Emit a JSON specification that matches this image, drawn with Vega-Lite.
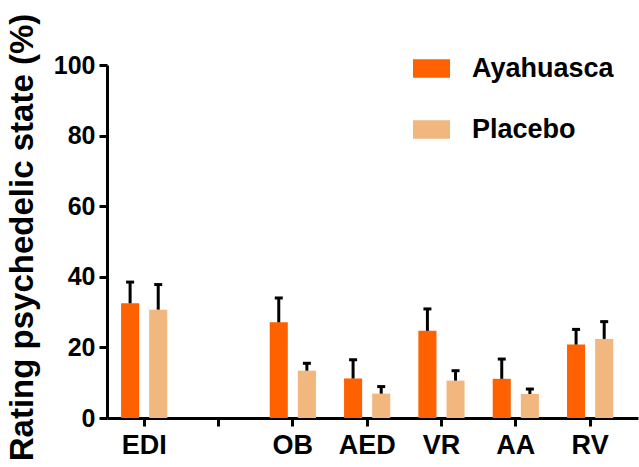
{
  "$schema": "https://vega.github.io/schema/vega-lite/v6.json",
  "width": 531,
  "height": 353,
  "autosize": {"type": "none"},
  "padding": {"left": 107, "top": 65, "right": 1, "bottom": 49},
  "background": "white",
  "config": {
    "view": {"stroke": null},
    "font": "Liberation Sans"
  },
  "data": {
    "values": [
      {"cat": "EDI", "group": "Ayahuasca", "value": 32.5, "upper": 38.5},
      {"cat": "EDI", "group": "Placebo", "value": 30.7, "upper": 37.8},
      {"cat": "OB", "group": "Ayahuasca", "value": 27.1, "upper": 34.0},
      {"cat": "OB", "group": "Placebo", "value": 13.4, "upper": 15.5},
      {"cat": "AED", "group": "Ayahuasca", "value": 11.2, "upper": 16.5},
      {"cat": "AED", "group": "Placebo", "value": 6.9, "upper": 8.9},
      {"cat": "VR", "group": "Ayahuasca", "value": 24.7, "upper": 30.9},
      {"cat": "VR", "group": "Placebo", "value": 10.6, "upper": 13.4},
      {"cat": "AA", "group": "Ayahuasca", "value": 11.1, "upper": 16.7},
      {"cat": "AA", "group": "Placebo", "value": 6.8, "upper": 8.2},
      {"cat": "RV", "group": "Ayahuasca", "value": 20.8, "upper": 25.1},
      {"cat": "RV", "group": "Placebo", "value": 22.4, "upper": 27.3}
    ]
  },
  "encoding": {
    "x": {
      "field": "cat",
      "type": "nominal",
      "sort": null,
      "scale": {
        "domain": ["EDI", " ", "OB", "AED", "VR", "AA", "RV"],
        "paddingInner": 0,
        "paddingOuter": 0.072,
        "align": 0
      },
      "axis": {
        "title": null,
        "labelAngle": 0,
        "labelFont": "Liberation Sans",
        "labelFontSize": 27,
        "labelFontWeight": "bold",
        "labelColor": "black",
        "labelPadding": 6,
        "tickSize": 8,
        "tickWidth": 3,
        "tickColor": "black",
        "domainWidth": 3,
        "domainColor": "black",
        "grid": false
      }
    },
    "xOffset": {
      "field": "group",
      "type": "nominal",
      "scale": {"domain": ["Ayahuasca", "Placebo"], "paddingInner": 0.357, "paddingOuter": 0.5}
    }
  },
  "layer": [
    {
      "mark": {"type": "bar"},
      "encoding": {
        "y": {
          "field": "value",
          "type": "quantitative",
          "scale": {"domain": [0, 100], "nice": false},
          "axis": {
            "values": [0, 20, 40, 60, 80, 100],
            "title": "Rating psychedelic state (%)",
            "titleFont": "Liberation Sans",
            "titleFontSize": 33,
            "titleFontWeight": "bold",
            "titleColor": "black",
            "titlePadding": 14,
            "titleY": 172,
            "labelFont": "Liberation Sans",
            "labelFontSize": 25,
            "labelFontWeight": "bold",
            "labelColor": "black",
            "labelPadding": 4,
            "tickSize": 8,
            "tickWidth": 3,
            "tickColor": "black",
            "domainWidth": 3,
            "domainColor": "black",
            "grid": false
          }
        },
        "color": {
          "field": "group",
          "type": "nominal",
          "scale": {"domain": ["Ayahuasca", "Placebo"], "range": ["#FF6100", "#F2B77E"]},
          "legend": {
            "orient": "none",
            "legendX": 306,
            "legendY": -15,
            "title": null,
            "padding": 0,
            "symbolType": "M-1,-0.5H1V0.5H-1Z",
            "symbolSize": 1369,
            "symbolStrokeWidth": 0,
            "symbolOpacity": 1,
            "labelFont": "Liberation Sans",
            "labelFontSize": 27,
            "labelFontWeight": "bold",
            "labelColor": "black",
            "labelOffset": 22,
            "labelLimit": 300,
            "rowPadding": 29
          }
        }
      }
    },
    {
      "mark": {"type": "rule", "color": "black", "strokeWidth": 3},
      "encoding": {
        "y": {"field": "value", "type": "quantitative"},
        "y2": {"field": "upper"}
      }
    },
    {
      "mark": {"type": "tick", "color": "black", "thickness": 3, "size": 8, "opacity": 1},
      "encoding": {
        "y": {"field": "upper", "type": "quantitative"}
      }
    }
  ]
}
